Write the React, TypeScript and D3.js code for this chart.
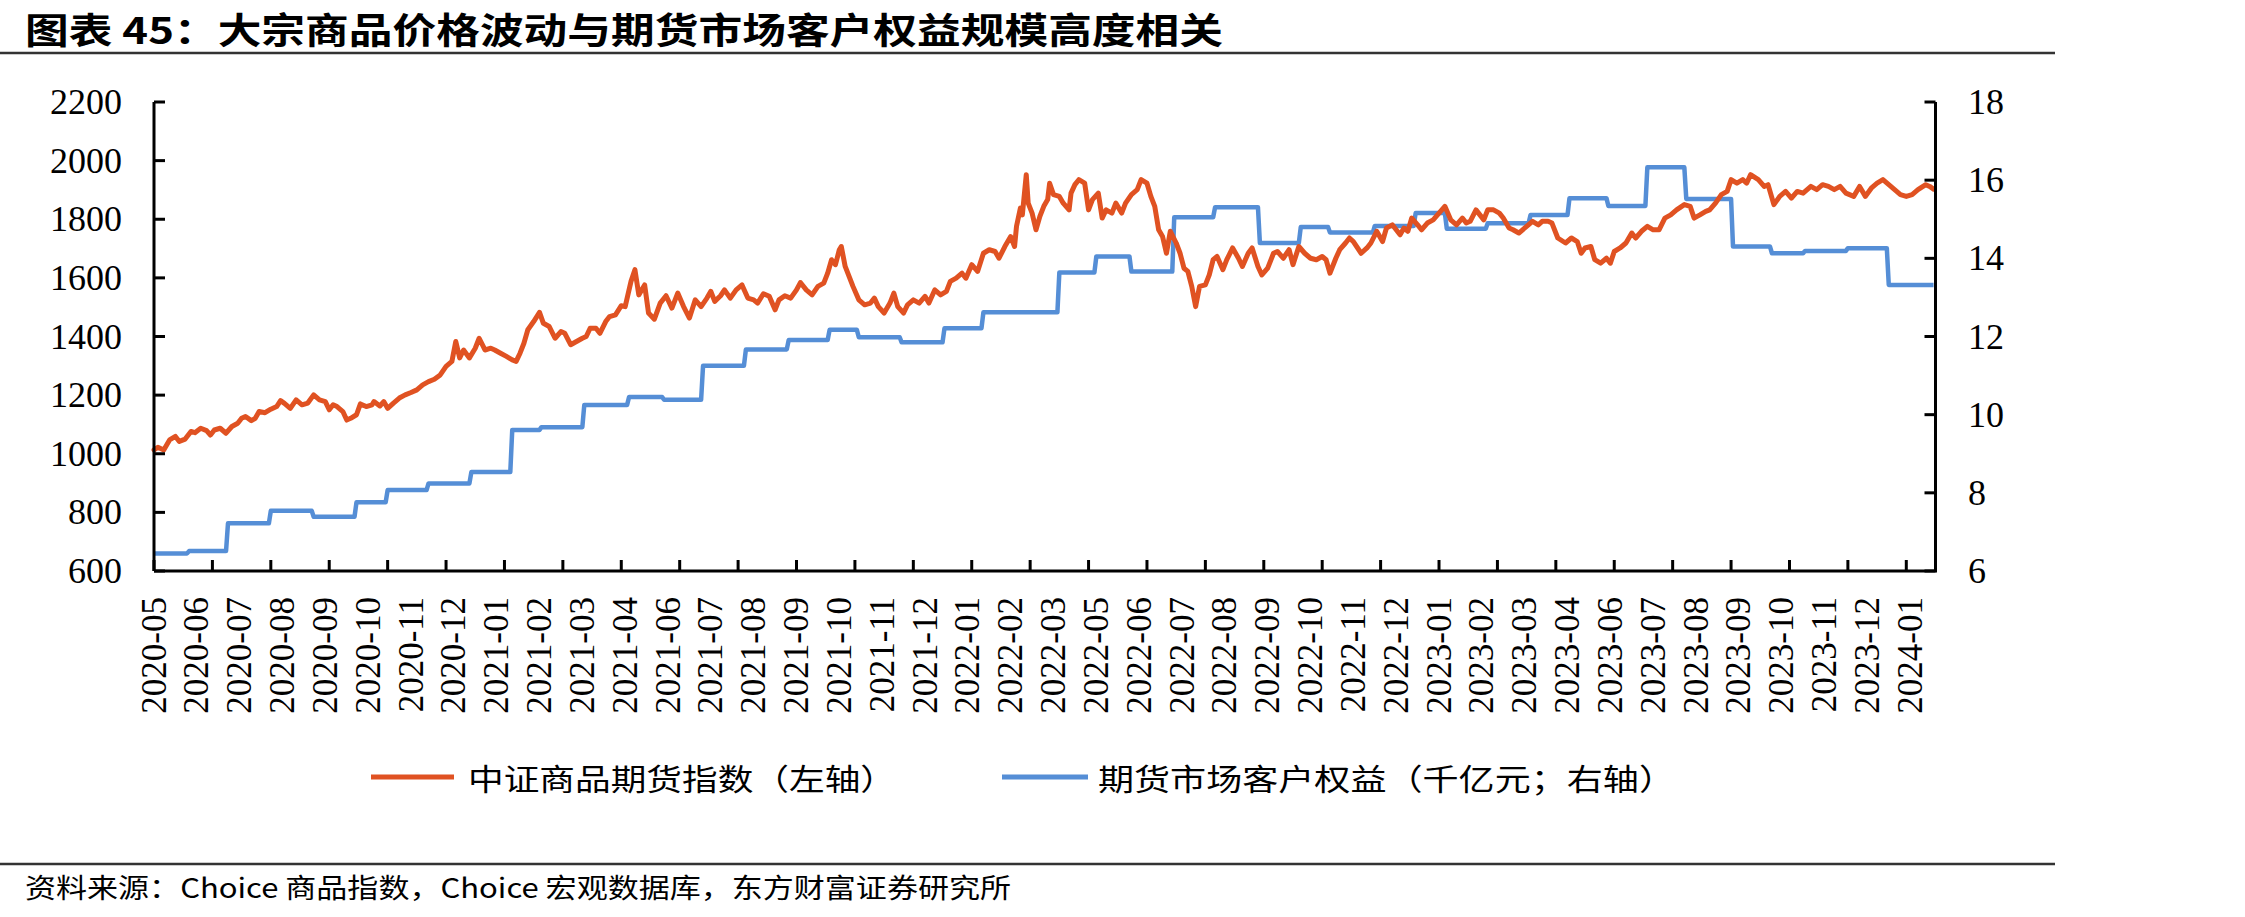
import React from 'react';
import * as d3 from 'd3';

const title = '图表 45：大宗商品价格波动与期货市场客户权益规模高度相关';
const source = '资料来源：Choice 商品指数，Choice 宏观数据库，东方财富证券研究所';
const seriesNames = ['中证商品期货指数（左轴）', '期货市场客户权益（千亿元；右轴）'];

// category labels, one every 22 trading days
const monthLabels = [
  '2020-05', '2020-06', '2020-07', '2020-08', '2020-09', '2020-10', '2020-11', '2020-12',
  '2021-01', '2021-02', '2021-03', '2021-04', '2021-06', '2021-07', '2021-08', '2021-09',
  '2021-10', '2021-11', '2021-12', '2022-01', '2022-02', '2022-03', '2022-05', '2022-06',
  '2022-07', '2022-08', '2022-09', '2022-10', '2022-11', '2022-12', '2023-01', '2023-02',
  '2023-03', '2023-04', '2023-06', '2023-07', '2023-08', '2023-09', '2023-10', '2023-11',
  '2023-12', '2024-01',
];
const labelEvery = 22;
const tickEvery = 30;
const dayCount = 915;

const leftTicks = [600, 800, 1000, 1200, 1400, 1600, 1800, 2000, 2200];
const rightTicks = [6, 8, 10, 12, 14, 16, 18];

// [trading day, index level]
const commodityIndex: [number, number][] = [
  [0, 1013], [2, 1022], [5, 1013], [8, 1047], [11, 1059], [13, 1042], [16, 1050], [19, 1076],
  [21, 1072], [24, 1087], [27, 1079], [29, 1064], [31, 1081], [34, 1087], [37, 1070], [40, 1093],
  [43, 1104], [45, 1121], [47, 1127], [50, 1113], [52, 1121], [54, 1144], [57, 1140], [60, 1152],
  [63, 1161], [65, 1181], [67, 1172], [70, 1155], [73, 1184], [76, 1167], [79, 1173], [82, 1201],
  [85, 1184], [88, 1178], [90, 1150], [92, 1167], [94, 1161], [97, 1144], [99, 1115], [101, 1121],
  [104, 1133], [106, 1170], [109, 1161], [112, 1167], [113, 1178], [116, 1163], [118, 1178], [120, 1155],
  [123, 1173], [126, 1190], [129, 1201], [132, 1209], [135, 1218], [138, 1235], [141, 1246], [144, 1254],
  [147, 1269], [150, 1298], [153, 1315], [155, 1383], [157, 1327], [159, 1354], [162, 1327], [165, 1360],
  [167, 1394], [170, 1354], [173, 1360], [175, 1354], [178, 1343], [181, 1332], [184, 1320], [186, 1315],
  [188, 1343], [190, 1377], [192, 1423], [195, 1451], [198, 1482], [200, 1445], [203, 1434], [206, 1394],
  [209, 1417], [211, 1411], [214, 1372], [217, 1383], [220, 1394], [222, 1400], [224, 1428], [227, 1428],
  [229, 1411], [232, 1451], [234, 1468], [237, 1474], [240, 1505], [242, 1502], [245, 1588], [247, 1628],
  [249, 1542], [252, 1576], [254, 1480], [257, 1459], [260, 1514], [263, 1539], [266, 1497], [269, 1548],
  [272, 1502], [275, 1463], [278, 1525], [281, 1502], [284, 1531], [286, 1554], [288, 1520], [291, 1539],
  [293, 1559], [296, 1531], [299, 1559], [302, 1576], [305, 1531], [308, 1525], [310, 1514], [313, 1546],
  [316, 1537], [319, 1491], [321, 1525], [324, 1539], [327, 1531], [330, 1559], [332, 1584], [335, 1559],
  [338, 1542], [341, 1571], [344, 1582], [346, 1616], [348, 1662], [350, 1645], [352, 1696], [353, 1707],
  [355, 1639], [357, 1605], [359, 1571], [362, 1525], [365, 1508], [368, 1514], [370, 1531], [372, 1502],
  [375, 1480], [378, 1514], [380, 1548], [382, 1502], [385, 1480], [387, 1508], [390, 1525], [393, 1514],
  [396, 1537], [398, 1514], [401, 1559], [404, 1542], [407, 1554], [409, 1588], [412, 1599], [415, 1616],
  [417, 1599], [420, 1645], [423, 1622], [426, 1684], [429, 1696], [432, 1690], [434, 1667], [437, 1707],
  [440, 1741], [442, 1707], [443, 1776], [445, 1838], [446, 1815], [448, 1952], [449, 1855], [451, 1821],
  [453, 1764], [455, 1810], [457, 1844], [459, 1867], [460, 1923], [462, 1884], [465, 1878], [467, 1855],
  [470, 1832], [471, 1889], [473, 1918], [475, 1935], [478, 1923], [480, 1832], [482, 1867], [485, 1889],
  [487, 1804], [489, 1832], [492, 1821], [494, 1855], [497, 1821], [499, 1855], [502, 1884], [505, 1901],
  [507, 1935], [510, 1923], [512, 1878], [514, 1844], [516, 1764], [518, 1741], [520, 1684], [522, 1759],
  [525, 1719], [527, 1684], [529, 1633], [531, 1622], [533, 1571], [535, 1502], [537, 1571], [540, 1576],
  [542, 1610], [544, 1662], [546, 1673], [549, 1628], [551, 1662], [554, 1702], [557, 1667], [559, 1639],
  [562, 1684], [564, 1702], [567, 1639], [569, 1610], [572, 1633], [575, 1684], [577, 1690], [580, 1667],
  [583, 1696], [585, 1645], [588, 1707], [591, 1684], [594, 1667], [597, 1662], [600, 1673], [602, 1662],
  [604, 1616], [607, 1667], [609, 1696], [612, 1719], [614, 1736], [616, 1724], [620, 1684], [623, 1702],
  [625, 1719], [628, 1759], [631, 1724], [633, 1770], [636, 1781], [640, 1747], [642, 1770], [644, 1759],
  [646, 1804], [649, 1781], [651, 1764], [654, 1787], [657, 1798], [660, 1821], [663, 1844], [666, 1798],
  [669, 1781], [672, 1804], [674, 1787], [676, 1793], [679, 1832], [683, 1798], [685, 1832], [688, 1832],
  [691, 1821], [693, 1804], [696, 1770], [698, 1764], [701, 1753], [705, 1776], [708, 1793], [711, 1781],
  [713, 1793], [716, 1793], [718, 1787], [721, 1736], [725, 1719], [728, 1736], [731, 1724], [733, 1684],
  [735, 1702], [738, 1707], [740, 1662], [743, 1650], [746, 1667], [748, 1650], [750, 1690], [753, 1702],
  [756, 1719], [759, 1753], [761, 1736], [764, 1759], [767, 1776], [770, 1764], [773, 1764], [776, 1804],
  [779, 1815], [782, 1832], [786, 1850], [789, 1844], [791, 1804], [794, 1815], [797, 1827], [799, 1832],
  [802, 1855], [805, 1884], [808, 1895], [810, 1935], [813, 1923], [816, 1935], [818, 1923], [820, 1952],
  [824, 1935], [827, 1912], [829, 1918], [832, 1850], [835, 1878], [838, 1895], [841, 1872], [844, 1895],
  [847, 1889], [851, 1912], [854, 1901], [857, 1918], [860, 1912], [863, 1901], [866, 1912], [869, 1889],
  [873, 1878], [876, 1912], [879, 1878], [882, 1906], [885, 1923], [888, 1935], [891, 1918], [894, 1901],
  [897, 1884], [900, 1878], [903, 1884], [906, 1901], [910, 1918], [912, 1912], [914, 1903],
];

// monthly customer equity (千亿元), held until the next month starts
const equityStartDay = [
  0, 18, 38, 60, 82, 104, 120, 141, 163, 184, 199, 221, 244, 262, 282, 304, 326, 347, 362, 384,
  406, 426, 465, 484, 502, 524, 545, 568, 589, 604, 627, 648, 664, 685, 707, 727, 747, 767, 787,
  811, 831, 848, 870, 891,
];
const equityValue = [
  6.45, 6.51, 7.22, 7.54, 7.39, 7.76, 8.07, 8.24, 8.53, 9.61, 9.68, 10.25, 10.45, 10.38, 11.25,
  11.67, 11.91, 12.17, 11.98, 11.85, 12.21, 12.62, 13.64, 14.05, 13.66, 15.05, 15.31, 14.39, 14.8,
  14.66, 14.83, 15.16, 14.76, 14.9, 15.11, 15.54, 15.34, 16.33, 15.52, 14.3, 14.13, 14.19, 14.26,
  13.32,
];

const W = 2245;
const H = 917;
const plot = { left: 154, right: 1935.5, top: 102, bottom: 571 };
const ORANGE = '#E05222';
const BLUE = '#558ED6';
const serif = '"Liberation Serif", "Times New Roman", serif';
const cjk = '"Noto Sans CJK SC", "Liberation Sans", sans-serif';

export default function App() {
  const x = d3.scaleLinear().domain([0, dayCount]).range([plot.left, plot.right]);
  const yL = d3.scaleLinear().domain([600, 2200]).range([plot.bottom, plot.top]);
  const yR = d3.scaleLinear().domain([6, 18]).range([plot.bottom, plot.top]);

  const indexLine = d3
    .line<[number, number]>()
    .x(d => x(d[0]))
    .y(d => yL(d[1]));

  // flat runs per month, one-day ramp at each change
  const equityPts: [number, number][] = [];
  equityStartDay.forEach((s, i) => {
    const end = i < equityStartDay.length - 1 ? equityStartDay[i + 1] - 1 : dayCount - 1;
    equityPts.push([s, equityValue[i]], [end, equityValue[i]]);
  });
  const equityLine = d3
    .line<[number, number]>()
    .x(d => x(d[0]))
    .y(d => yR(d[1]));

  const xTicks = d3.range(0, dayCount, tickEvery);
  const tickLen = 11;

  return (
    <svg
      width={W}
      height={H}
      style={{ position: 'absolute', left: 0, top: 0, display: 'block', background: '#fff' }}
    >
      <text
        x={25}
        y={28}
        fontFamily={cjk}
        fontWeight="bold"
        fontSize={36}
        dominantBaseline="central"
        textLength={1198}
        lengthAdjust="spacingAndGlyphs"
      >
        {title}
      </text>
      <line x1={0} x2={2055} y1={53} y2={53} stroke="#333" strokeWidth={2.5} />

      {/* series */}
      <path
        d={equityLine(equityPts) || ''}
        fill="none"
        stroke={BLUE}
        strokeWidth={4.5}
        strokeLinejoin="round"
      />
      <path
        d={indexLine(commodityIndex) || ''}
        fill="none"
        stroke={ORANGE}
        strokeWidth={5}
        strokeLinejoin="round"
        strokeLinecap="round"
      />

      {/* axes */}
      <g stroke="#000" strokeWidth={3}>
        <line x1={plot.left} x2={plot.left} y1={plot.top} y2={plot.bottom} />
        <line x1={plot.right} x2={plot.right} y1={plot.top} y2={plot.bottom} />
        <line x1={plot.left} x2={plot.right + 1.5} y1={plot.bottom} y2={plot.bottom} />
        {leftTicks.map(t => (
          <line key={'l' + t} x1={plot.left} x2={plot.left + tickLen} y1={yL(t)} y2={yL(t)} />
        ))}
        {rightTicks.map(t => (
          <line key={'r' + t} x1={plot.right - tickLen} x2={plot.right} y1={yR(t)} y2={yR(t)} />
        ))}
        {xTicks.map(t => (
          <line key={'x' + t} x1={x(t)} x2={x(t)} y1={plot.bottom - tickLen} y2={plot.bottom} />
        ))}
      </g>

      <g fontFamily={serif} fontSize={36} fill="#000">
        {leftTicks.map(t => (
          <text key={t} x={122} y={yL(t)} textAnchor="end" dominantBaseline="central">
            {t}
          </text>
        ))}
        {rightTicks.map(t => (
          <text key={t} x={1968} y={yR(t)} textAnchor="start" dominantBaseline="central">
            {t}
          </text>
        ))}
      </g>

      <g fontFamily={serif} fontSize={35} fill="#000">
        {monthLabels.map((m, i) => (
          <text
            key={m}
            transform={`translate(${x(i * labelEvery)},597) rotate(-90)`}
            textAnchor="end"
            dominantBaseline="central"
          >
            {m}
          </text>
        ))}
      </g>

      {/* legend */}
      <line x1={371} x2={454} y1={777} y2={777} stroke={ORANGE} strokeWidth={5} />
      <text
        x={468}
        y={777}
        fontFamily={cjk}
        fontSize={30}
        dominantBaseline="central"
        textLength={428}
        lengthAdjust="spacingAndGlyphs"
      >
        {seriesNames[0]}
      </text>
      <line x1={1002} x2={1088} y1={777} y2={777} stroke={BLUE} strokeWidth={5} />
      <text
        x={1098}
        y={777}
        fontFamily={cjk}
        fontSize={30}
        dominantBaseline="central"
        textLength={577}
        lengthAdjust="spacingAndGlyphs"
      >
        {seriesNames[1]}
      </text>

      <line x1={0} x2={2055} y1={864} y2={864} stroke="#333" strokeWidth={2.5} />
      <text
        x={25}
        y={886}
        fontFamily={cjk}
        fontSize={27}
        dominantBaseline="central"
        textLength={986}
        lengthAdjust="spacingAndGlyphs"
      >
        {source}
      </text>
    </svg>
  );
}
